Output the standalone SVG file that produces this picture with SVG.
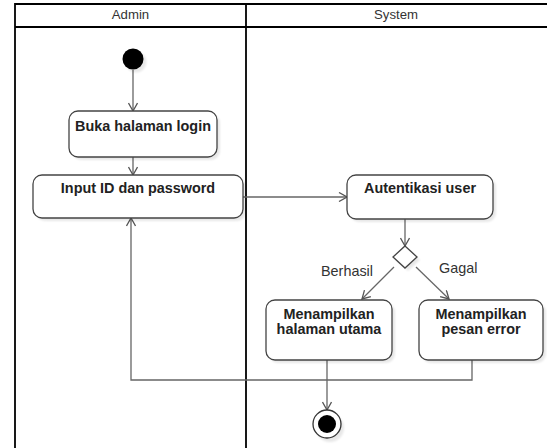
<svg xmlns="http://www.w3.org/2000/svg" width="547" height="448" viewBox="0 0 547 448">
  <defs>
    <marker id="open-arrow" viewBox="0 0 10 10" refX="9" refY="5" markerWidth="10" markerHeight="10" markerUnits="userSpaceOnUse" orient="auto">
      <path d="M1,0.5 L9,5 L1,9.5" fill="none" stroke="#555" stroke-width="1.3"/>
    </marker>
    <filter id="soft-shadow" x="-20%" y="-20%" width="150%" height="150%">
      <feGaussianBlur stdDeviation="1"/>
    </filter>
  </defs>
  <style>
    .lane { fill: none; stroke: #000; stroke-width: 1.8; }
    .lane-title { font-family: "Liberation Sans", Arial, sans-serif; font-size: 13.2px; fill: #333; text-anchor: middle; }
    .action { fill: #fff; stroke: #444; stroke-width: 1.3; }
    .shadow { fill: #000; opacity: 0.09; filter: url(#soft-shadow); }
    .action-label { font-family: "Liberation Sans", Arial, sans-serif; font-size: 14.4px; font-weight: bold; fill: #222; text-anchor: middle; }
    .guard { font-family: "Liberation Sans", Arial, sans-serif; font-size: 14.4px; fill: #333; }
    .flow { fill: none; stroke: #666; stroke-width: 1.3; marker-end: url(#open-arrow); }
    .flow-plain { fill: none; stroke: #666; stroke-width: 1.3; }
  </style>
  <rect width="547" height="448" fill="#fff"/>

  <!-- swimlanes -->
  <g id="swimlanes">
    <path class="lane" d="M15,460 L15,4 L560,4 M15,27 L560,27 M246,4 L246,460"/>
    <text class="lane-title" x="130.5" y="19">Admin</text>
    <text class="lane-title" x="396" y="19">System</text>
  </g>

  <!-- connectors -->
  <g id="connectors">
    <path class="flow" d="M133,70 L133,111"/>
    <path class="flow" d="M133,157 L133,175"/>
    <path class="flow" d="M243,197 L347,197"/>
    <path class="flow" d="M405,219 L405,246"/>
    <path class="flow" d="M394,267 L362,299"/>
    <path class="flow" d="M416,267 L449,299"/>
    <path class="flow" d="M327,360 L327,410"/>
    <path class="flow" d="M472,360 L472,380 L131,380 L131,218"/>
  </g>

  <!-- initial node -->
  <g id="start">
    <circle class="shadow" cx="136" cy="62" r="10.5"/>
    <circle cx="133" cy="59" r="10.5" fill="#000"/>
  </g>

  <g id="buka-halaman-login">
    <rect class="shadow" x="72" y="114" width="148" height="46" rx="9"/>
    <rect class="action" x="69" y="111" width="148" height="46" rx="9"/>
    <text class="action-label" x="143" y="131">Buka halaman login</text>
  </g>

  <g id="input-id-password">
    <rect class="shadow" x="36" y="178" width="210" height="43" rx="9"/>
    <rect class="action" x="33" y="175" width="210" height="43" rx="9"/>
    <text class="action-label" x="138" y="193">Input ID dan password</text>
  </g>

  <g id="autentikasi-user">
    <rect class="shadow" x="350" y="178" width="146" height="44" rx="9"/>
    <rect class="action" x="347" y="175" width="146" height="44" rx="9"/>
    <text class="action-label" x="420" y="193">Autentikasi user</text>
  </g>

  <g id="decision">
    <path class="shadow" d="M408,249 L420,260 L408,271 L396,260 Z"/>
    <path class="action" d="M405,246 L417,257 L405,268 L393,257 Z"/>
  </g>

  <g id="guards">
    <text class="guard" x="321" y="276">Berhasil</text>
    <text class="guard" x="439" y="273">Gagal</text>
  </g>

  <g id="halaman-utama">
    <rect class="shadow" x="269" y="303" width="126" height="60" rx="9"/>
    <rect class="action" x="266" y="300" width="126" height="60" rx="9"/>
    <text class="action-label" x="329" y="319">Menampilkan</text>
    <text class="action-label" x="329" y="334">halaman utama</text>
  </g>

  <g id="pesan-error">
    <rect class="shadow" x="422" y="303" width="124" height="60" rx="9"/>
    <rect class="action" x="419" y="300" width="124" height="60" rx="9"/>
    <text class="action-label" x="481" y="319">Menampilkan</text>
    <text class="action-label" x="481" y="334">pesan error</text>
  </g>

  <!-- final node -->
  <g id="end">
    <circle class="shadow" cx="330" cy="428" r="14"/>
    <circle cx="327" cy="424" r="14" fill="#fff" stroke="#333" stroke-width="1.3"/>
    <circle cx="327" cy="424" r="9" fill="#000"/>
  </g>
</svg>
